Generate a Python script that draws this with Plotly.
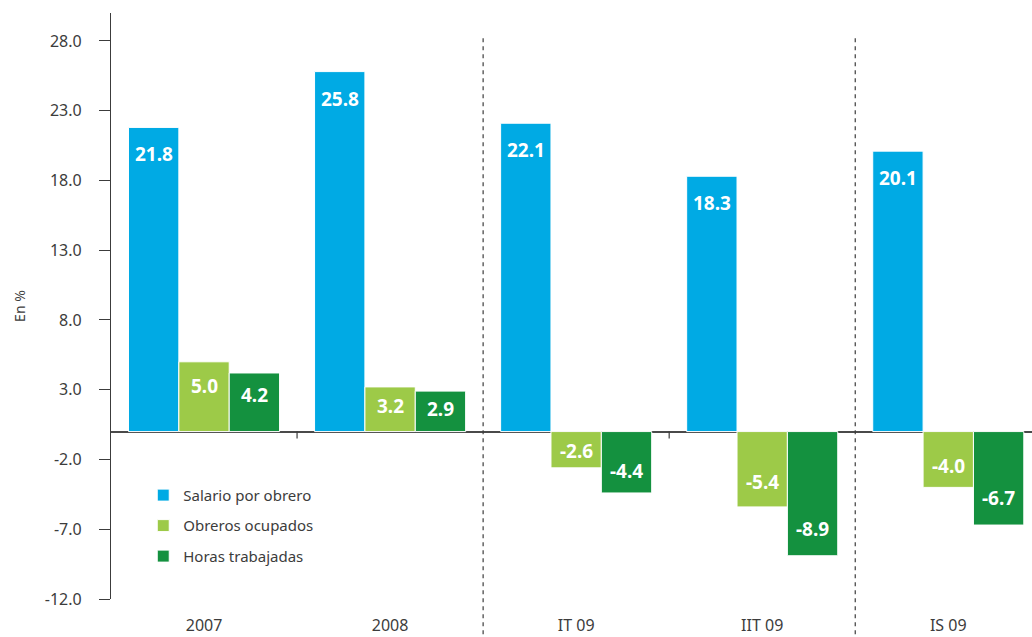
import plotly.graph_objects as go

# Categories and series (variación en %)
categories = ["2007", "2008", "IT 09", "IIT 09", "IS 09"]
salario_por_obrero = [21.8, 25.8, 22.1, 18.3, 20.1]
obreros_ocupados = [5.0, 3.2, -2.6, -5.4, -4.0]
horas_trabajadas = [4.2, 2.9, -4.4, -8.9, -6.7]
series_names = ["Salario por obrero", "Obreros ocupados", "Horas trabajadas"]
series_colors = ["#00AAE4", "#9DCA48", "#14913F"]
y_tickvals = [-12, -7, -2, 3, 8, 13, 18, 23, 28]

FONT = "Noto Sans"
TEXT_COLOR = "#3c3c3c"
AXIS_COLOR = "#3c3c3c"

# Layout geometry
W, H = 1032, 637
M_L, M_R, M_T, M_B = 111, 0, 13, 38
X_RANGE = [-0.5, 4.45]
Y_RANGE = [-12, 30]
BARGAP = 0.188

plot_w = W - M_L - M_R
plot_h = H - M_T - M_B
px_per_cat = plot_w / (X_RANGE[1] - X_RANGE[0])
px_per_unit = plot_h / (Y_RANGE[1] - Y_RANGE[0])
slot_px = px_per_cat * (1 - BARGAP) / 3

all_series = [salario_por_obrero, obreros_ocupados, horas_trabajadas]
cat_index = list(range(len(categories)))

fig = go.Figure()
for name, values, color in zip(series_names, all_series, series_colors):
    fig.add_trace(go.Bar(
        name=name,
        x=cat_index,
        y=values,
        marker=dict(color=color, line=dict(color="white", width=1)),
        legendgroup=name,
    ))

# Value labels inside the bars, near the bar end
annotations = []
for j, values in enumerate(all_series):
    for i, v in zip(cat_index, values):
        h = abs(v) * px_per_unit
        off = min(h / 2, 10 + 0.2 * h, 27)
        annotations.append(dict(
            x=i, y=v, xref="x", yref="y",
            text=f"{v:.1f}", showarrow=False,
            xshift=(j - 1) * slot_px,
            yshift=-off if v > 0 else off,
            yanchor="middle", xanchor="center",
            font=dict(family=FONT, size=19, color="white", weight="bold"),
        ))

# Axis title
annotations.append(dict(
    text="En %", xref="paper", yref="paper", x=-0.1, y=0.5,
    xanchor="center", yanchor="middle", textangle=-90, showarrow=False,
    font=dict(family=FONT, size=14, color=TEXT_COLOR),
))

shapes = []
# Dashed separators between annual and quarterly blocks
for xpos in [1.5, 3.5]:
    shapes.append(dict(
        type="line", xref="x", yref="paper", x0=xpos, x1=xpos,
        y0=0.957, y1=-0.07,
        line=dict(color=AXIS_COLOR, width=1.2, dash="4px,4px"),
    ))
# Short ticks on the zero line between categories
for xpos in [0.5, 2.5]:
    shapes.append(dict(
        type="line", xref="x", yref="y", x0=xpos, x1=xpos,
        y0=0, y1=-7 / px_per_unit,
        line=dict(color=AXIS_COLOR, width=1.2),
    ))

fig.update_layout(
    width=W, height=H,
    margin=dict(l=M_L, r=M_R, t=M_T, b=M_B, autoexpand=False),
    paper_bgcolor="white", plot_bgcolor="white",
    barmode="group", bargap=BARGAP, bargroupgap=0,
    font=dict(family=FONT, color=TEXT_COLOR),
    showlegend=True,
    legend=dict(
        x=0.035, y=0.205, xanchor="left", yanchor="top",
        font=dict(family=FONT, size=15, color=TEXT_COLOR),
        traceorder="grouped", tracegroupgap=8,
        bgcolor="rgba(0,0,0,0)",
    ),
    xaxis=dict(
        range=X_RANGE,
        tickvals=cat_index, ticktext=categories,
        showline=False, showgrid=False, zeroline=False,
        ticks="", ticklabelstandoff=15,
        tickfont=dict(family=FONT, size=16, color=TEXT_COLOR),
    ),
    yaxis=dict(
        range=Y_RANGE, tickvals=y_tickvals,
        ticktext=[f"{v:.1f}" for v in y_tickvals],
        showline=True, linecolor=AXIS_COLOR, linewidth=1.2,
        ticks="outside", ticklen=11, tickcolor=AXIS_COLOR, tickwidth=1.2,
        ticklabelstandoff=14,
        showgrid=False,
        zeroline=True, zerolinecolor="#4a4a4a", zerolinewidth=1.5,
        tickfont=dict(family=FONT, size=16, color=TEXT_COLOR),
    ),
    annotations=annotations,
    shapes=shapes,
)

fig.write_html("out.html")
